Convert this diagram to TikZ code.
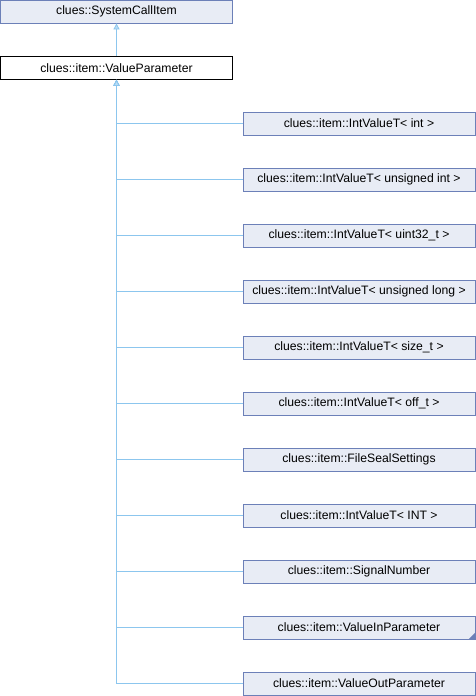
\documentclass[tikz,border=0pt]{standalone}
\usepackage{fontspec}
\setmainfont{Liberation Sans}
\usetikzlibrary{arrows.meta, positioning}

\definecolor{boxfill}{HTML}{E8ECF5}
\definecolor{boxline}{HTML}{6C80B8}
\definecolor{edgeblue}{HTML}{8CC6EE}

\begin{document}
\begin{tikzpicture}[
  x=1pt, y=-1pt,
  classbox/.style={draw=boxline, fill=boxfill, line width=0.8pt,
               minimum width=232pt, minimum height=23pt, inner sep=0pt,
               font=\fontsize{12.2}{14}\selectfont},
  edge/.style={draw=edgeblue, line width=0.8pt,
               -{Triangle[open, length=6pt, width=6pt, fill=edgeblue!60]}},
  every node/.style={font=\fontsize{12.2}{14}\selectfont}
]
  \useasboundingbox (0,0) rectangle (476,696);

  \node[classbox] (sci) at (116.5,11.5) {clues::SystemCallItem};
  \node[classbox, draw=black, fill=white] (vp) at (116.5,68) {clues::item::ValueParameter};

  \draw[edge] (vp) -- (sci);

  % derived classes
  \foreach \name/\txt [count=\i from 0] in {
      cint/{clues::item::IntValueT< int >},
      cuint/{clues::item::IntValueT< unsigned int >},
      cuintt/{clues::item::IntValueT< uint32\_t >},
      culong/{clues::item::IntValueT< unsigned long >},
      csize/{clues::item::IntValueT< size\_t >},
      coff/{clues::item::IntValueT< off\_t >},
      cseal/{clues::item::FileSealSettings},
      cINT/{clues::item::IntValueT< INT >},
      csig/{clues::item::SignalNumber},
      cin/{clues::item::ValueInParameter},
      cout/{clues::item::ValueOutParameter}} {
    \node[classbox] (\name) at (359,123.5+56*\i) {\txt};
    \draw[edge] (\name.west) -| (vp.south);
  }

  \fill[boxline] (cin.south east) -- ++(0,-7) -- ++(-7,7) -- cycle;
\end{tikzpicture}
\end{document}
